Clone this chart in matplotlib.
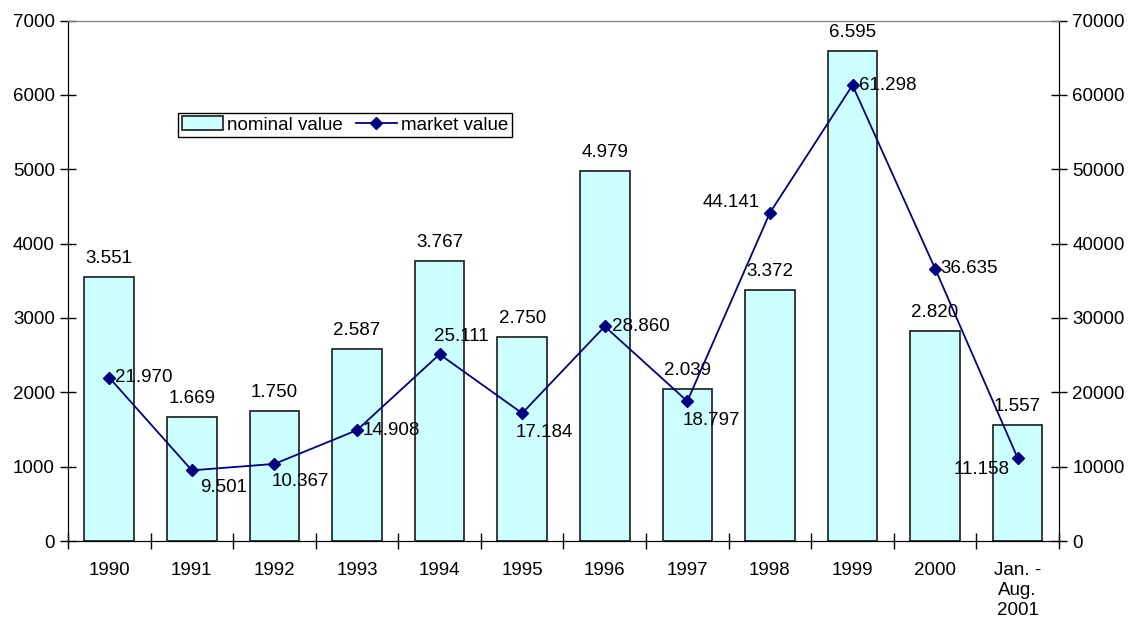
import numpy as np
import matplotlib.pyplot as plt

plt.rcParams["font.family"] = ["Liberation Sans", "DejaVu Sans"]

categories = ["1990", "1991", "1992", "1993", "1994", "1995", "1996", "1997",
              "1998", "1999", "2000", "Jan. -\nAug.\n2001"]
nominal = [3551, 1669, 1750, 2587, 3767, 2750, 4979, 2039, 3372, 6595, 2820, 1557]
market = [21970, 9501, 10367, 14908, 25111, 17184, 28860, 18797, 44141, 61298, 36635, 11158]

# label offsets for the market value labels (pixels, ha, va)
market_offsets = [
    (6, 0, "left", "center"), (8, -17, "left", "center"), (-3, -18, "left", "center"),
    (6, 0, "left", "center"), (-6, 18, "left", "center"), (-7, -19, "left", "center"),
    (7, 0, "left", "center"), (-5, -19, "left", "center"), (-10, 10, "right", "center"),
    (6, 0, "left", "center"), (5, 0, "left", "center"), (-8, -11, "right", "center"),
]
FS = 13.5


def fmt(v):
    return f"{v:,}".replace(",", ".")


fig = plt.figure(figsize=(11.31, 6.25), dpi=100)
ax = fig.add_axes([0.0601, 0.1344, 0.8762, 0.8328])
ax2 = ax.twinx()

x = np.arange(len(categories))
bars = ax.bar(x, nominal, width=0.6, color="#CCFFFF", edgecolor="#1a1a1a",
              linewidth=1.2, label="nominal value", zorder=2)
line, = ax2.plot(x, market, color="#000080", marker="D", markersize=6,
                 linewidth=1.3, label="market value", zorder=3)

for xi, v in zip(x, nominal):
    ax.annotate(fmt(v), (xi, v), xytext=(0, 10), textcoords="offset pixels",
                ha="center", va="bottom", fontsize=FS)

for xi, v, (dx, dy, ha, va) in zip(x, market, market_offsets):
    ax2.annotate(fmt(v), (xi, v), xytext=(dx, dy), textcoords="offset pixels",
                 ha=ha, va=va, fontsize=FS, zorder=5)

ax.set_xlim(-0.5, len(categories) - 0.5)
ax.set_ylim(0, 7000)
ax2.set_ylim(0, 70000)
ax.set_yticks(np.arange(0, 7001, 1000))
ax2.set_yticks(np.arange(0, 70001, 10000))

ax.set_xticks(x)
ax.set_xticklabels(categories, fontsize=FS, linespacing=1.25)
ax.set_xticks(np.arange(-0.5, len(categories)), minor=True)
ax.tick_params(axis="x", which="major", length=0, pad=15)
ax.tick_params(axis="x", which="minor", direction="inout", length=11, width=1)
ax.tick_params(axis="y", direction="inout", length=11, width=1, labelsize=FS, pad=4)
ax2.tick_params(axis="y", direction="inout", length=11, width=1, labelsize=FS, pad=4)

for a in (ax, ax2):
    a.spines["top"].set_color("#808080")
    a.spines["left"].set_color("black")
    a.spines["right"].set_color("black")
    a.spines["bottom"].set_color("black")

ax.set_zorder(ax2.get_zorder() - 1)
ax.patch.set_visible(True)
ax2.patch.set_visible(False)

leg = ax2.legend([bars, line], ["nominal value", "market value"], ncol=2,
                 loc="upper left", bbox_to_anchor=(0.111, 0.823), fontsize=FS,
                 frameon=True, fancybox=False, edgecolor="black", framealpha=1,
                 borderpad=0.2, handlelength=2.2, handletextpad=0.2,
                 columnspacing=0.7, borderaxespad=0)
leg.get_frame().set_linewidth(1.0)

fig.savefig("out.png", dpi=100)
